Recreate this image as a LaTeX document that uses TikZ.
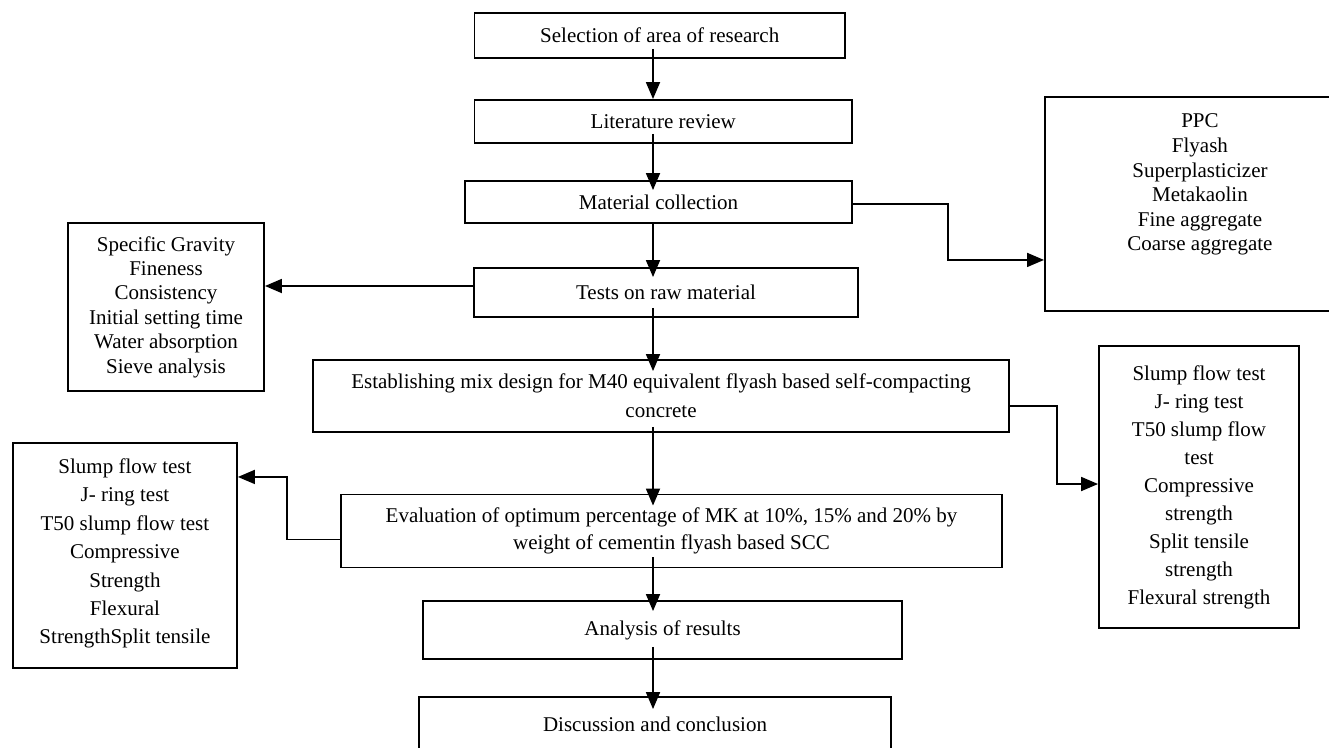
\documentclass[tikz,border=0pt]{standalone}
\usepackage{fontspec}
\setmainfont{Liberation Serif}
\usetikzlibrary{arrows.meta,calc}
\begin{document}
\begin{tikzpicture}[x=1pt,y=-1pt,
  box/.style={draw, line width=1.9pt, inner sep=0pt, align=center, font=\fontsize{21}{24.5}\selectfont},
  arr/.style={line width=1.8pt, -{Triangle[length=17pt,width=14pt]}}]
\useasboundingbox (0,0) rectangle (1329,747);
\coordinate (ax) at (653,0);
% main column
\node[box, minimum width=370.5pt, minimum height=45pt] (sel) at (659.75,35.5) {Selection of area of research};
\node[box, minimum width=377.5pt, minimum height=43pt] (lit) at (663.25,121.5) {Literature review};
\node[box, minimum width=387pt, minimum height=42pt] (mat) at (658.5,202) {Material collection};
\node[box, minimum width=384pt, minimum height=49pt] (tests) at (666,292.5) {Tests on raw material};
\node[box, minimum width=696pt, minimum height=72pt, font=\fontsize{21}{29}\selectfont] (est) at (661,396) {Establishing mix design for M40 equivalent flyash based self-compacting\\concrete};
\node[box, minimum width=661pt, minimum height=73pt, font=\fontsize{21}{27}\selectfont] (ev) at (671.5,531) {Evaluation of optimum percentage of MK at 10\%, 15\% and 20\% by\\weight of cementin flyash based SCC};
\node[box, minimum width=479pt, minimum height=58pt] (ana) at (662.5,630) {Analysis of results};
\node[box, minimum width=472pt, minimum height=54pt] (disc) at (655,724) {Discussion and conclusion};
% side boxes
\node[box, minimum width=196pt, minimum height=168pt, font=\fontsize{21}{24.4}\selectfont] (l1) at (166,307) {Specific Gravity\\Fineness\\Consistency\\Initial setting time\\Water absorption\\Sieve analysis};
\node[box, anchor=north west, font=\fontsize{21}{28.4}\selectfont] (l2) at (12,442) {\begin{minipage}[c][225pt][t]{224pt}\centering\vspace*{15.7pt}Slump flow test\\J- ring test\\T50 slump flow test\\Compressive\\Strength\\Flexural\\StrengthSplit tensile\end{minipage}};
\node[box, anchor=north west, font=\fontsize{21}{24.6}\selectfont] (ppc) at (1044,96) {\begin{minipage}[c][214pt][t]{310pt}\centering\vspace*{17pt}PPC\\Flyash\\Superplasticizer\\Metakaolin\\Fine aggregate\\Coarse aggregate\end{minipage}};
\node[box, minimum width=200pt, minimum height=282pt, font=\fontsize{21}{28}\selectfont] (r2) at (1199,487) {Slump flow test\\J- ring test\\T50 slump flow\\test\\Compressive\\strength\\Split tensile\\strength\\Flexural strength};
% vertical flow
\draw[arr] ([yshift=10pt]sel.south -| ax) -- (lit.north -| ax);
\draw[arr] ([yshift=10pt]lit.south -| ax) -- ([yshift=-10pt]mat.north -| ax);
\draw[arr] (mat.south -| ax) -- ([yshift=-10pt]tests.north -| ax);
\draw[arr] ([yshift=10pt]tests.south -| ax) -- ([yshift=-12pt]est.north -| ax);
\draw[arr] ([yshift=6pt]est.south -| ax) -- ([yshift=-12pt]ev.north -| ax);
\draw[arr] ([yshift=11pt]ev.south -| ax) -- ([yshift=-11pt]ana.north -| ax);
\draw[arr] ([yshift=13pt]ana.south -| ax) -- ([yshift=-13pt]disc.north -| ax);
% side connectors
\draw[arr] ([yshift=-2pt]mat.east) -- ++(95,0) |- ([yshift=-56pt]ppc.west);
\draw[arr] ([yshift=6.5pt]tests.west) -- ([yshift=6.5pt]tests.west -| l1.east);
\draw[arr] ([yshift=-10pt]est.east) -- ++(47,0) |- ([yshift=3pt]r2.west);
\draw[arr] ([yshift=-8.5pt]ev.west) -- ++(-53,0) |- ([yshift=78.5pt]l2.east);
\end{tikzpicture}
\end{document}
